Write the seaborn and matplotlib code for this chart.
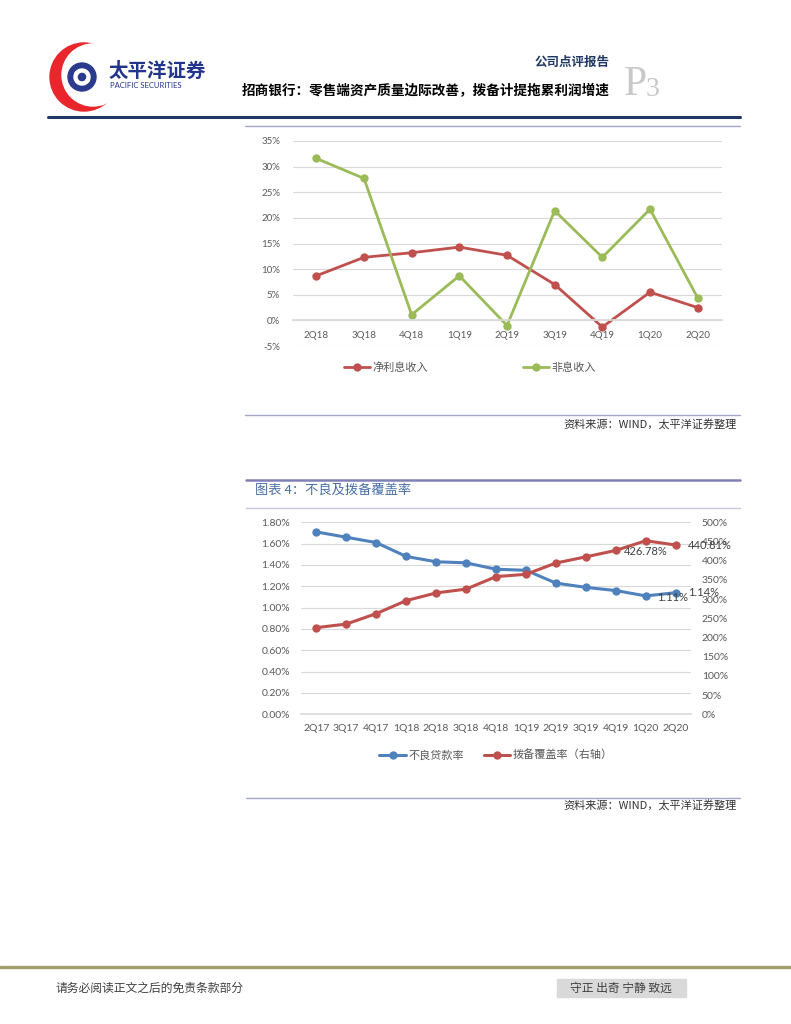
import matplotlib
matplotlib.use("Agg")
import matplotlib.pyplot as plt
import seaborn as sns
import pandas as pd
from matplotlib.lines import Line2D
from matplotlib.patches import Circle, Rectangle, Wedge
from matplotlib.ticker import FuncFormatter, MultipleLocator

# chart 1: growth of net interest income / non-interest income
quarters1 = ["2Q18", "3Q18", "4Q18", "1Q19", "2Q19", "3Q19", "4Q19", "1Q20", "2Q20"]
net_interest = [8.7, 12.3, 13.2, 14.3, 12.7, 7.0, -1.3, 5.5, 2.5]
non_interest = [31.6, 27.7, 1.1, 8.7, -1.0, 21.4, 12.3, 21.7, 4.4]

# chart 2: NPL ratio and provision coverage
quarters2 = ["2Q17", "3Q17", "4Q17", "1Q18", "2Q18", "3Q18", "4Q18", "1Q19",
             "2Q19", "3Q19", "4Q19", "1Q20", "2Q20"]
npl_ratio = [1.71, 1.66, 1.61, 1.48, 1.43, 1.42, 1.36, 1.35, 1.23, 1.19, 1.16, 1.11, 1.14]
coverage = [225.7, 235.0, 262.1, 296.0, 316.0, 326.0, 358.5, 364.6, 394.0, 410.0,
            426.78, 452.0, 440.81]

sns.set_theme(style="white")
plt.rcParams['font.family'] = ['Lato', 'Noto Sans CJK SC', 'DejaVu Sans']
CJK = ['Noto Sans CJK SC', 'DejaVu Sans']

W, H = 791, 1024
fig = plt.figure(figsize=(W / 100, H / 100), dpi=100)


def fx(x):
    return x / W


def fy(y):
    return 1 - y / H


def hline(x0, x1, y, color, lw):
    fig.add_artist(Line2D([fx(x0), fx(x1)], [fy(y), fy(y)], color=color, lw=lw,
                          transform=fig.transFigure))


RED = "#C0504D"
GREEN = "#9BBB59"
BLUE = "#4F81BD"
TICK = "#595959"
GRID = "#D9D9D9"

# ---------- page header ----------
logo = fig.add_axes([fx(45), fy(115), fx(62), 75 / H])
logo.set_xlim(45, 107)
logo.set_ylim(115, 40)
logo.axis("off")
# red crescent = red disc minus an offset white disc
logo.add_patch(Circle((84, 77), 34, color="#E8262B"))
logo.add_patch(Circle((93, 75), 31, color="white"))
logo.add_patch(Circle((82, 77), 14, color="#2B3A8C"))
logo.add_patch(Wedge((82, 77), 8, 200, 40, width=3, color="white"))
logo.add_patch(Wedge((82, 77), 8, 20, 220, width=3, color="white"))
logo.add_patch(Circle((82, 77), 2.5, color="#2B3A8C"))

fig.text(fx(109), fy(71), "太平洋证券", family=CJK, fontsize=14, fontweight="bold",
         color="#22348C", va="center")
fig.text(fx(110), fy(86), "PACIFIC SECURITIES", fontsize=5.5, color="#22348C", va="center")
fig.text(fx(610), fy(62), "公司点评报告", family=CJK, fontsize=9, fontweight="bold",
         color="#1F3864", ha="right", va="center")
fig.text(fx(610), fy(91), "招商银行：零售端资产质量边际改善，拨备计提拖累利润增速", family=CJK,
         fontsize=9.8, fontweight="bold", color="black", ha="right", va="center")
fig.text(fx(624), fy(85), "P", family=["Liberation Serif"], fontsize=30, color="#C8C8C8",
         va="center")
fig.text(fx(646), fy(90), "3", family=["Liberation Serif"], fontsize=20, color="#C8C8C8",
         va="center")
hline(48, 740, 117, "#1F3864", 2.2)
hline(245, 740, 126, "#A6A6CC", 1.0)

# ---------- chart 1 ----------
ax1 = fig.add_axes([fx(292.5), fy(346), 429 / W, 205 / H])
sns.lineplot(x=quarters1, y=net_interest, ax=ax1, color=RED, lw=2.0, marker="o",
             markersize=6, markeredgewidth=0, sort=False, label="净利息收入")
sns.lineplot(x=quarters1, y=non_interest, ax=ax1, color=GREEN, lw=2.0, marker="o",
             markersize=6, markeredgewidth=0, sort=False, label="非息收入")
ax1.set_xlim(-0.5, len(quarters1) - 0.5)
ax1.set_ylim(-5, 35)
ax1.yaxis.set_major_locator(MultipleLocator(5))
ax1.yaxis.set_major_formatter(FuncFormatter(lambda v, p: f"{v:.0f}%"))
ax1.grid(axis="y", color=GRID, lw=0.8)
ax1.set_axisbelow(True)
for s in ["top", "right", "left"]:
    ax1.spines[s].set_visible(False)
ax1.spines["bottom"].set_position(("data", 0))
ax1.spines["bottom"].set_color(GRID)
ax1.tick_params(axis="both", length=0, labelsize=7, colors=TICK)
ax1.tick_params(axis="y", pad=9)
ax1.tick_params(axis="x", pad=8)
h1, l1 = ax1.get_legend_handles_labels()
ax1.legend(h1, l1, ncol=2, loc="center", bbox_to_anchor=(fx(470), fy(368)),
           bbox_transform=fig.transFigure, frameon=False, handlelength=2.4,
           columnspacing=8.5, handletextpad=0.2, prop={"family": CJK, "size": 8},
           labelcolor=TICK)

hline(245, 740, 415, "#A6A6CC", 1.0)
fig.text(fx(737), fy(425), "资料来源：WIND，太平洋证券整理", family=CJK, fontsize=8,
         color="#333333", ha="right", va="center")

# ---------- chart 2 ----------
hline(246, 740, 480, "#8080B8", 1.8)
fig.text(fx(255), fy(490), "图表 4：不良及拨备覆盖率", family=CJK, fontsize=9.5,
         color="#4A6FA8", va="center")
hline(246, 740, 508, "#C8C8DC", 1.0)

ax2 = fig.add_axes([fx(301.3), fy(714.3), 389.4 / W, 192 / H])
sns.lineplot(x=quarters2, y=npl_ratio, ax=ax2, color=BLUE, lw=2.2, marker="o",
             markersize=6, markeredgewidth=0, sort=False, label="不良贷款率")
ax2.set_xlim(-0.5, len(quarters2) - 0.5)
ax2.set_ylim(0, 1.8)
ax2.yaxis.set_major_locator(MultipleLocator(0.2))
ax2.yaxis.set_major_formatter(FuncFormatter(lambda v, p: f"{v:.2f}%"))
ax2.grid(axis="y", color=GRID, lw=0.8)
ax2.set_axisbelow(True)

ax3 = ax2.twinx()
sns.lineplot(x=quarters2, y=coverage, ax=ax3, color=RED, lw=2.2, marker="o",
             markersize=6, markeredgewidth=0, sort=False, label="拨备覆盖率（右轴）")
ax3.set_ylim(0, 500)
ax3.yaxis.set_major_locator(MultipleLocator(50))
ax3.yaxis.set_major_formatter(FuncFormatter(lambda v, p: f"{v:.0f}%"))
ax3.grid(False)

for a in (ax2, ax3):
    for s in a.spines.values():
        s.set_visible(False)
    a.tick_params(axis="both", length=0, labelsize=7.5, colors=TICK)
    a.set_ylabel("")
ax2.spines["bottom"].set_visible(True)
ax2.spines["bottom"].set_color(GRID)
ax2.tick_params(axis="y", pad=8)
ax3.tick_params(axis="y", pad=8)
ax2.tick_params(axis="x", pad=7)

# data labels as shown on the chart
i20q1 = quarters2.index("1Q20")
i20q2 = quarters2.index("2Q20")
lab = dict(fontsize=8, color="#404040", textcoords="offset points")
ax3.annotate(f"{coverage[i20q1 - 1]:.2f}%", (i20q1, coverage[i20q1]), xytext=(0, -8),
             ha="center", va="center", **lab)
ax3.annotate(f"{coverage[i20q2]:.2f}%", (i20q2, coverage[i20q2]), xytext=(9, 0),
             ha="left", va="center", **lab)
ax2.annotate(f"{npl_ratio[i20q1]:.2f}%", (i20q1, npl_ratio[i20q1]), xytext=(8, -1),
             ha="left", va="center", **lab)
ax2.annotate(f"{npl_ratio[i20q2]:.2f}%", (i20q2, npl_ratio[i20q2]), xytext=(9, 0),
             ha="left", va="center", **lab)

h2, l2 = ax2.get_legend_handles_labels()
h3, l3 = ax3.get_legend_handles_labels()
ax3.get_legend().remove()
ax2.legend(h2 + h3, l2 + l3, ncol=2, loc="center", bbox_to_anchor=(fx(496), fy(755)),
           bbox_transform=fig.transFigure, frameon=False, handlelength=2.4,
           columnspacing=1.8, handletextpad=0.2, prop={"family": CJK, "size": 8},
           labelcolor=TICK)

hline(246, 740, 798, "#A6A6CC", 1.0)
fig.text(fx(737), fy(806), "资料来源：WIND，太平洋证券整理", family=CJK, fontsize=8,
         color="#333333", ha="right", va="center")

# ---------- footer ----------
hline(0, 791, 967, "#A39C6B", 2.4)
fig.text(fx(55), fy(988), "请务必阅读正文之后的免责条款部分", family=CJK, fontsize=8.5,
         color="#404040", va="center")
fig.add_artist(Rectangle((fx(557), fy(997)), 129 / W, 18 / H, color="#D9D9D9",
                         transform=fig.transFigure))
fig.text(fx(621), fy(988), "守正 出奇 宁静 致远", family=CJK, fontsize=8.5,
         color="#404040", ha="center", va="center")

fig.savefig("out.png", dpi=100)
